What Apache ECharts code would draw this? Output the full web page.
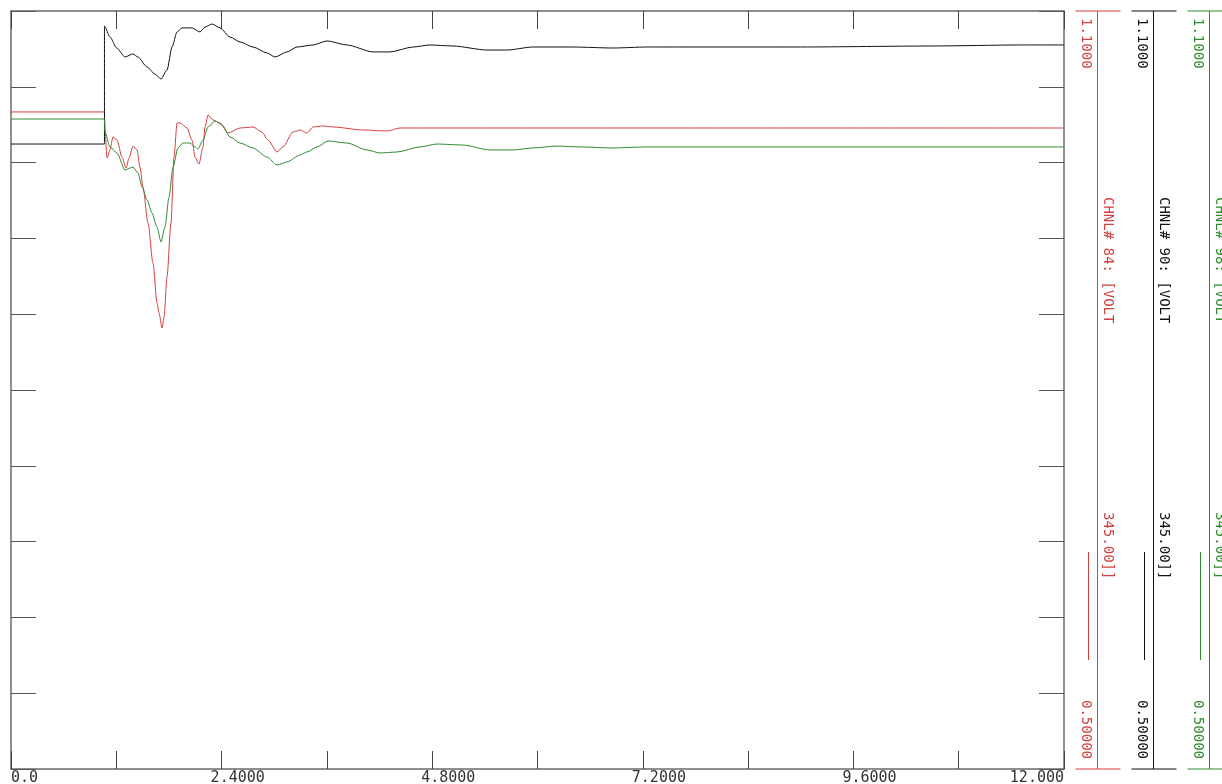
<!DOCTYPE html>
<html>
<head>
    <meta charset="utf-8">
    <title>CHNL 84 / 90 / 98 VOLT</title>
    <style>
        body { margin: 0; background: #fff; }
    </style>
</head>
<body>
        <div id="main" style="width: 1222px;height:784px;"></div>
</body>
<script src="https://cdn.jsdelivr.net/npm/echarts@6.0.0/dist/echarts.min.js"></script>
<script>
// time [s], voltage [pu]
var tickValues = [0, 2.4, 4.8, 7.2, 9.6, 12];
var tickLabels = ['0.0', '2.4000', '4.8000', '7.2000', '9.6000', '12.000'];

var chnl84 = [ // red
    [0, 1.0201], [1.065, 1.0201], [1.071, 1.0058], [1.094, 0.9836], [1.128, 0.9900], [1.162, 1.0003],
    [1.208, 0.9979], [1.265, 0.9844], [1.311, 0.9757], [1.345, 0.9836], [1.390, 0.9931], [1.436, 0.9900],
    [1.470, 0.9765], [1.504, 0.9607], [1.561, 0.9322], [1.618, 0.9005], [1.664, 0.8689], [1.687, 0.8609],
    [1.721, 0.8491], [1.744, 0.8578], [1.778, 0.8895], [1.823, 0.9322], [1.858, 0.9844], [1.892, 1.0114],
    [1.926, 1.0114], [2.006, 1.0074], [2.063, 0.9979], [2.097, 0.9844], [2.142, 0.9789], [2.188, 0.9924],
    [2.211, 1.0082], [2.245, 1.0177], [2.302, 1.0137], [2.382, 1.0114], [2.473, 1.0034], [2.610, 1.0074],
    [2.758, 1.0082], [2.860, 1.0042], [2.929, 0.9979], [3.031, 0.9884], [3.100, 0.9924], [3.214, 1.0042],
    [3.293, 1.0058], [3.373, 1.0034], [3.442, 1.0082], [3.556, 1.0090], [3.670, 1.0082], [4.011, 1.0058],
    [4.285, 1.0050], [4.433, 1.0074], [4.969, 1.0074], [7.0, 1.0074], [9.5, 1.0074], [12.0, 1.0074]
];

var chnl90 = [ // black
    [0, 0.9947], [1.065, 0.9947], [1.065, 1.0881], [1.128, 1.0794], [1.205, 1.0707], [1.299, 1.0636],
    [1.390, 1.0660], [1.447, 1.0636], [1.550, 1.0557], [1.641, 1.0501], [1.709, 1.0462], [1.778, 1.0533],
    [1.835, 1.0715], [1.892, 1.0834], [1.949, 1.0866], [2.063, 1.0866], [2.154, 1.0834], [2.211, 1.0873],
    [2.291, 1.0897], [2.382, 1.0866], [2.496, 1.0794], [2.610, 1.0755], [2.758, 1.0715], [2.917, 1.0668],
    [3.009, 1.0636], [3.145, 1.0676], [3.259, 1.0715], [3.442, 1.0731], [3.601, 1.0763], [3.829, 1.0731],
    [4.125, 1.0676], [4.319, 1.0676], [4.581, 1.0715], [4.775, 1.0731], [5.037, 1.0723], [5.425, 1.0691],
    [5.652, 1.0691], [5.949, 1.0715], [6.405, 1.0715], [6.860, 1.0707], [7.248, 1.0715], [7.624, 1.0715],
    [9.0, 1.0715], [10.5, 1.0723], [11.5, 1.0731], [12.0, 1.0731]
];

var chnl98 = [ // green
    [0, 1.0145], [1.065, 1.0145], [1.071, 1.0042], [1.128, 0.9924], [1.208, 0.9876], [1.299, 0.9741],
    [1.356, 0.9757], [1.390, 0.9765], [1.447, 0.9718], [1.493, 0.9607], [1.550, 0.9504], [1.607, 0.9401],
    [1.664, 0.9290], [1.709, 0.9172], [1.755, 0.9290], [1.801, 0.9528], [1.846, 0.9765], [1.903, 0.9916],
    [1.960, 0.9955], [2.040, 0.9955], [2.097, 0.9924], [2.131, 0.9908], [2.188, 0.9979], [2.245, 1.0082],
    [2.325, 1.0129], [2.405, 1.0098], [2.496, 1.0003], [2.610, 0.9955], [2.758, 0.9916], [2.917, 0.9844],
    [3.031, 0.9781], [3.145, 0.9805], [3.293, 0.9860], [3.373, 0.9884], [3.487, 0.9924], [3.613, 0.9971],
    [3.829, 0.9955], [4.057, 0.9900], [4.205, 0.9876], [4.399, 0.9884], [4.661, 0.9924], [4.855, 0.9947],
    [5.151, 0.9939], [5.459, 0.9900], [5.721, 0.9900], [5.949, 0.9916], [6.222, 0.9931], [6.484, 0.9924],
    [6.860, 0.9916], [7.248, 0.9924], [7.624, 0.9924], [9.5, 0.9924], [12.0, 0.9924]
];

var channels = [
    { name: 'CHNL# 84: [VOLT', color: '#d43f3f', data: chnl84 },
    { name: 'CHNL# 90: [VOLT', color: '#111111', data: chnl90 },
    { name: 'CHNL# 98: [VOLT', color: '#2f8a2f', data: chnl98 }
];
var scaleTop = '1.1000', scaleBottom = '0.50000', busKv = '345.00]]';

var myChart = echarts.init(document.getElementById('main'));

var frameLine = { show: true, onZero: false, lineStyle: { color: '#6a6a6a', width: 1.5 } };
var xTick = { show: true, inside: true, length: 18, lineStyle: { color: '#444' } };
var yTick = { show: true, inside: true, length: 25, lineStyle: { color: '#555' } };

myChart.setOption({
    animation: false,
    grid: { left: 11, top: 11, width: 1053, height: 758 },
    xAxis: [
        { type: 'value', min: 0, max: 12, interval: 1.2, position: 'bottom',
          axisLine: frameLine, axisTick: xTick, axisLabel: { show: false }, splitLine: { show: false } },
        { type: 'value', min: 0, max: 12, interval: 1.2, position: 'top',
          axisLine: frameLine, axisTick: xTick, axisLabel: { show: false }, splitLine: { show: false } }
    ],
    yAxis: [
        // data axis, 0.5 .. 1.1 pu
        { type: 'value', min: 0.5, max: 1.1, show: false, position: 'left' },
        // division axes, only for the frame ticks (10 divisions)
        { type: 'value', min: 0, max: 10, interval: 1, position: 'left',
          axisLine: frameLine, axisTick: yTick, axisLabel: { show: false }, splitLine: { show: false } },
        { type: 'value', min: 0, max: 10, interval: 1, position: 'right',
          axisLine: frameLine, axisTick: yTick, axisLabel: { show: false }, splitLine: { show: false } }
    ],
    series: channels.map(function (c) {
        return {
            type: 'line',
            name: c.name,
            xAxisIndex: 0,
            yAxisIndex: 0,
            data: c.data,
            showSymbol: false,
            smooth: 0.25,
            smoothMonotone: 'x',
            lineStyle: { color: c.color, width: 1 }
        };
    })
});

// tick labels + channel scale bars on the right
var graphics = [];
var mono = '"DejaVu Sans Mono", "Liberation Mono", monospace';

tickValues.forEach(function (v, i) {
    var px = myChart.convertToPixel({ xAxisIndex: 0 }, v);
    var align = 'left', x = px - 11;
    if (i === 0) { x = px; }
    if (i === tickValues.length - 1) { align = 'right'; x = px; }
    graphics.push({
        type: 'text', x: x, y: 771,
        style: { text: tickLabels[i], fill: '#333', fontSize: 15, fontFamily: mono, align: align, verticalAlign: 'top' }
    });
});

var yTop = myChart.convertToPixel({ yAxisIndex: 0 }, 1.1);
var yBottom = myChart.convertToPixel({ yAxisIndex: 0 }, 0.5);

function vtext(str, x, y, color) {
    return {
        type: 'text', x: x, y: y, rotation: -Math.PI / 2,
        style: { text: str, fill: color, fontSize: 14, fontFamily: mono, align: 'left', verticalAlign: 'middle' }
    };
}
function seg(x1, y1, x2, y2, color) {
    return { type: 'line', shape: { x1: x1, y1: y1, x2: x2, y2: y2 }, style: { stroke: color, lineWidth: 1 } };
}

channels.forEach(function (c, i) {
    var bx = 1097.5 + i * 56;
    graphics.push(seg(bx, yTop, bx, yBottom, c.color));
    graphics.push(seg(bx - 22, yTop, bx + 23, yTop, c.color));
    graphics.push(seg(bx - 22, yBottom, bx + 23, yBottom, c.color));
    graphics.push(seg(bx - 9, 552, bx - 9, 660, c.color));
    graphics.push(vtext(scaleTop, bx - 12, 18, c.color));
    graphics.push(vtext(scaleBottom, bx - 12, 700, c.color));
    graphics.push(vtext(c.name, bx + 10, 197, c.color));
    graphics.push(vtext(busKv, bx + 10, 512, c.color));
});

myChart.setOption({ graphic: graphics });
</script>
</html>
